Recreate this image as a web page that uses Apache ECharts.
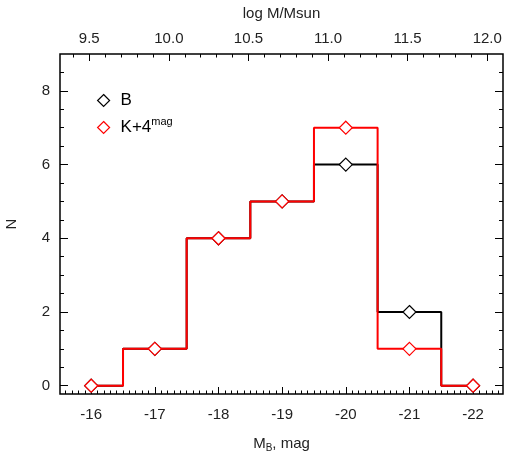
<!DOCTYPE html>
<html>
<head>
<meta charset="utf-8">
<script src="https://cdn.jsdelivr.net/npm/echarts@6/dist/echarts.min.js"></script>
<style>
  html, body { margin: 0; padding: 0; background: #fff; }
  #chart { width: 508px; height: 461px; }
</style>
</head>
<body>
<div id="chart"></div>
<script>
// Absolute B magnitude bins (bin centres) and galaxy counts
const magBins   = [-16, -17, -18, -19, -20, -21, -22];
const countsB   = [0, 1, 4, 5, 6, 2, 0];
const countsK4  = [0, 1, 4, 5, 7, 1, 0];

// Tick labels
const magTicks   = [-16, -17, -18, -19, -20, -21, -22];
const massTicks  = [9.5, 10.0, 10.5, 11.0, 11.5, 12.0];
const countTicks = [0, 2, 4, 6, 8];

// Axis ranges
const magRange   = [-22.47, -15.51];
const massRange  = [9.316, 12.099];
const countRange = [-0.225, 9.0];

// Minor tick positions
function minorTicks(lo, hi, step, majors) {
  const out = [];
  const n = Math.round((hi - lo) / step);
  for (let i = 0; i <= n; i++) {
    const v = +(lo + i * step).toFixed(4);
    if (!majors.some(m => Math.abs(m - v) < 1e-6)) out.push(v);
  }
  return out;
}
const magMinor   = minorTicks(-22.4, -15.6, 0.1, magTicks);
const massMinor  = minorTicks(9.4, 12.0, 0.1, massTicks);
const countMinor = minorTicks(0.5, 8.5, 0.5, countTicks);

const FONT = 'Liberation Sans';
const chart = echarts.init(document.getElementById('chart'), null, { renderer: 'canvas' });

const hidden = { show: false };
function tickAxis(base, values, len, labels) {
  return Object.assign({
    type: 'value',
    gridIndex: 0,
    splitLine: hidden,
    axisLine: { show: false, onZero: false },
    axisTick: { show: true, inside: true, length: len, customValues: values,
                lineStyle: { color: '#000', width: 1 } },
    axisLabel: labels ? Object.assign({ customValues: values }, labels) : { show: false }
  }, base);
}

const labelStyle = { color: '#222', fontFamily: FONT, fontSize: 15 };

chart.setOption({
  animation: false,
  backgroundColor: '#fff',
  grid: {
    left: 60, right: 5, top: 54, bottom: 67,
    outerBoundsMode: 'none', containLabel: false,
    show: true, borderColor: '#000', borderWidth: 1.5, backgroundColor: 'transparent'
  },
  legend: {
    orient: 'vertical',
    left: 92, top: 87,
    itemWidth: 12, itemHeight: 12, itemGap: 7,
    textStyle: {
      color: '#000', fontFamily: FONT, fontSize: 17,
      rich: {
        t: { fontFamily: FONT, fontSize: 17, color: '#000', padding: [0, 0, 0, 6] },
        sup: { fontFamily: FONT, fontSize: 11, color: '#000', padding: [0, 0, 12, 0] }
      }
    },
    formatter: name => name === 'K+4' ? '{t|K+4}{sup|mag}' : '{t|' + name + '}',
    data: [
      { name: 'B', icon: 'diamond',
        itemStyle: { color: '#fff', borderColor: '#000', borderWidth: 1.2 } },
      { name: 'K+4', icon: 'diamond',
        itemStyle: { color: '#fff', borderColor: '#ff0000', borderWidth: 1.2 } }
    ]
  },
  xAxis: [
    // bottom: magnitude, major ticks and labels
    tickAxis({ position: 'bottom', inverse: true, min: magRange[0], max: magRange[1],
               name: '{m|M}{s|B}{m|, mag}', nameLocation: 'middle', nameGap: 41,
               nameTextStyle: { rich: {
                 m: { fontFamily: FONT, fontSize: 15, color: '#222' },
                 s: { fontFamily: FONT, fontSize: 10, color: '#222', padding: [8, 0, 0, 0] }
               } } },
             magTicks, 7,
             Object.assign({ margin: 13, formatter: v => String(Math.round(v)) }, labelStyle)),
    // bottom: minor ticks
    tickAxis({ position: 'bottom', inverse: true, min: magRange[0], max: magRange[1] },
             magMinor, 3.5, null),
    // top: stellar mass, major ticks and labels
    tickAxis({ position: 'top', min: massRange[0], max: massRange[1],
               name: 'log M/Msun', nameLocation: 'middle', nameGap: 33,
               nameTextStyle: { fontFamily: FONT, fontSize: 15, color: '#222' } },
             massTicks, 7,
             Object.assign({ margin: 8, formatter: v => v.toFixed(1) }, labelStyle)),
    // top: minor ticks
    tickAxis({ position: 'top', min: massRange[0], max: massRange[1] },
             massMinor, 3.5, null)
  ],
  yAxis: [
    tickAxis({ position: 'left', min: countRange[0], max: countRange[1],
               name: 'N', nameLocation: 'middle', nameGap: 41,
               nameTextStyle: { fontFamily: FONT, fontSize: 15, color: '#222' } },
             countTicks, 8,
             Object.assign({ margin: 10, formatter: v => String(v) }, labelStyle)),
    tickAxis({ position: 'left', min: countRange[0], max: countRange[1] },
             countMinor, 4, null),
    tickAxis({ position: 'right', min: countRange[0], max: countRange[1] },
             countTicks, 8, null),
    tickAxis({ position: 'right', min: countRange[0], max: countRange[1] },
             countMinor, 4, null)
  ],
  series: [
    {
      name: 'B', type: 'line', step: 'middle',
      xAxisIndex: 0, yAxisIndex: 0,
      data: magBins.map((m, i) => [m, countsB[i]]),
      symbol: 'diamond', symbolSize: 13, showAllSymbol: true,
      itemStyle: { color: '#fff', borderColor: '#000', borderWidth: 1.2 },
      lineStyle: { color: '#000', width: 2 },
      z: 2
    },
    {
      name: 'K+4', type: 'line', step: 'middle',
      xAxisIndex: 0, yAxisIndex: 0,
      data: magBins.map((m, i) => [m, countsK4[i]]),
      symbol: 'diamond', symbolSize: 13, showAllSymbol: true,
      itemStyle: { color: '#fff', borderColor: '#ff0000', borderWidth: 1.2 },
      lineStyle: { color: '#ff0000', width: 2 },
      z: 3
    }
  ]
});
</script>
</body>
</html>
